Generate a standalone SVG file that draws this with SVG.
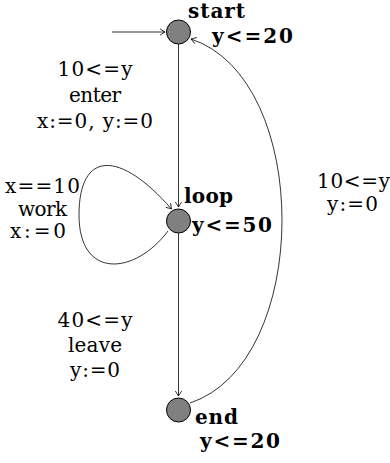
<svg xmlns="http://www.w3.org/2000/svg" width="390" height="463" viewBox="0 0 390 463">
<defs>
<marker id="arr" viewBox="-6 -4 8 8" refX="0" refY="0" markerWidth="8" markerHeight="8" markerUnits="userSpaceOnUse" orient="auto">
<path d="M-5,-3.2 Q-1.5,-0.8 0,0 Q-1.5,0.8 -5,3.2" fill="none" stroke="#000" stroke-width="0.8"/>
</marker>
</defs>
<style>
.edge{fill:none;stroke:#000;stroke-width:0.8}
.node{fill:#808080;stroke:#000;stroke-width:1}
.lbl{font-family:"DejaVu Serif",serif;font-size:20px;fill:#000;text-anchor:middle}
.nm{font-family:"DejaVu Serif",serif;font-size:20px;font-weight:bold;fill:#000}
</style>
<rect width="390" height="463" fill="#fff"/>
<g id="edges">
<path class="edge" d="M112,32 L165,32" marker-end="url(#arr)"/>
<path class="edge" d="M178.5,44 L178.5,207" marker-end="url(#arr)"/>
<path class="edge" d="M168,231 C135,275 79,280 79,215 C79,150 120,150 171.5,209" marker-end="url(#arr)"/>
<path class="edge" d="M178.5,233 L178.5,396" marker-end="url(#arr)"/>
<path class="edge" d="M190,403 C312,363 313,79 191,39" marker-end="url(#arr)"/>
</g>
<g id="edge-labels">
<text class="lbl" x="95" y="76" textLength="75">10&lt;=y</text>
<text class="lbl" x="95" y="102" textLength="52">enter</text>
<text class="lbl" x="95" y="128" textLength="116">x:=0, y:=0</text>
<text class="lbl" x="42.5" y="193" textLength="75">x==10</text>
<text class="lbl" x="42.5" y="216" textLength="49">work</text>
<text class="lbl" x="38" y="238" textLength="56">x:=0</text>
<text class="lbl" x="95" y="327" textLength="75">40&lt;=y</text>
<text class="lbl" x="95" y="352" textLength="54">leave</text>
<text class="lbl" x="95" y="377" textLength="50">y:=0</text>
<text class="lbl" x="353.5" y="188" textLength="73">10&lt;=y</text>
<text class="lbl" x="352.5" y="211" textLength="51">y:=0</text>
</g>
<g id="start">
<circle class="node" cx="178.5" cy="32" r="12"/>
<text class="nm" x="188" y="17.5" font-size="18.5" textLength="57">start</text>
<text class="nm" x="212" y="43" textLength="81">y&lt;=20</text>
</g>
<g id="loop">
<circle class="node" cx="178.5" cy="221" r="12"/>
<text class="nm" x="184" y="203" textLength="49">loop</text>
<text class="nm" x="192" y="232" textLength="80">y&lt;=50</text>
</g>
<g id="end">
<circle class="node" cx="178.5" cy="410" r="12"/>
<text class="nm" x="195" y="424" textLength="43">end</text>
<text class="nm" x="200" y="448" textLength="80">y&lt;=20</text>
</g>
</svg>
